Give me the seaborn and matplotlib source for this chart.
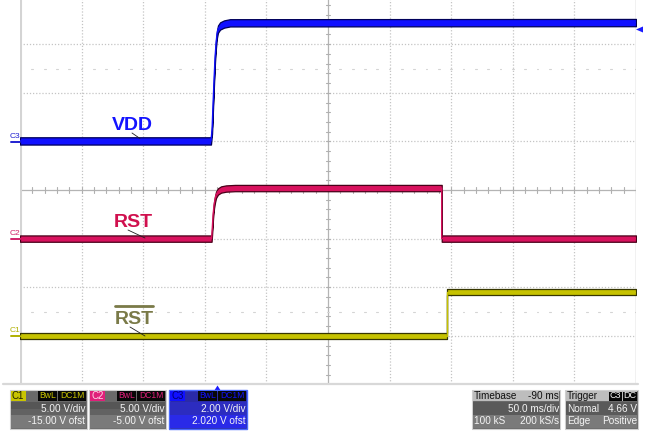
import matplotlib
matplotlib.use("Agg")
import matplotlib.pyplot as plt
import seaborn as sns
import pandas as pd
from matplotlib.patches import Rectangle, Polygon

# ---------------- data (time in ms relative to trigger, volts) ----------------
vdd_t = [-160, -5.0, -4.1, -3.3, -2.5, -1.7, -0.9, -0.1, 0.7, 2.4, 5.6, 10.5, 340]
vdd_v = [0.0, 0.0, 0.45, 1.5, 2.5, 3.4, 4.0, 4.4, 4.6, 4.73, 4.81, 4.86, 4.87]

rst_t = [-160, -4.5, -4.1, -3.3, -2.5, -1.7, -0.9, 0.7, 3.2, 7.2, 14.5, 182.3, 182.3, 340]
rst_v = [0.0, 0.0, 0.7, 2.4, 3.45, 4.05, 4.5, 4.85, 5.05, 5.15, 5.2, 5.2, 0.0, 0.0]

rstn_t = [-160, 186.4, 186.4, 340]
rstn_v = [0.0, 0.0, 4.5, 4.5]

channels = ["C1", "C2", "C3"]
ch_scale = [5.0, 5.0, 2.0]          # V/div
ch_offset = [-15.0, -5.0, 2.020]    # V ofst
ch_scale_txt = ["5.00 V/div", "5.00 V/div", "2.00 V/div"]
ch_offset_txt = ["-15.00 V ofst", "-5.00 V ofst", "2.020 V ofst"]
timebase_txt = ["-90 ms", "50.0 ms/div", "100 kS", "200 kS/s"]
trigger_txt = ["Normal", "4.66 V", "Edge", "Positive"]

# ---------------- figure ----------------
W, H = 648, 434
sns.set_style("white")
plt.rcParams["font.family"] = ["Liberation Sans", "DejaVu Sans"]

fig = plt.figure(figsize=(W / 100, H / 100), dpi=100)
X0, X1 = 20, 636
YT, YB = -4.4, 384.4
ax = fig.add_axes([X0 / W, (H - YB) / H, (X1 - X0) / W, (YB - YT) / H])
T0, T1 = -160, 340
ax.set_xlim(T0, T1)
ax.set_ylim(-4, 4)
ax.axis("off")


def d(xp, yp):
    """pixel (from top-left) -> data coords"""
    t = T0 + (xp - X0) / (X1 - X0) * (T1 - T0)
    dv = 4 - (yp - YT) / (YB - YT) * 8
    return t, dv


# ---------------- graticule ----------------
gcol = "#c4c4c4"
for k in range(1, 10):
    t = T0 + 50 * k
    if k == 5:
        ax.axvline(t, color="#b4b4b4", lw=0.9, zorder=1)
    else:
        ax.axvline(t, color=gcol, lw=0.9, ls=(0, (1, 1.5)), zorder=1)
for k in range(-3, 4):
    if k == 0:
        ax.axhline(0, color="#b4b4b4", lw=0.9, zorder=1)
    else:
        ax.axhline(k, color=gcol, lw=0.9, ls=(0, (1, 1.5)), zorder=1)
# minor ticks on centre axes
for i in range(-25, 26):
    t = 90 + 10 * i
    ax.plot([t, t], [-0.055, 0.055], color="#b0b0b0", lw=0.8, zorder=1)
    ax.plot([t - 0.7, t + 0.7], [2.5, 2.5], color="#d4d4d4", lw=0.8, zorder=1)
    ax.plot([t - 0.7, t + 0.7], [-2.5, -2.5], color="#d4d4d4", lw=0.8, zorder=1)
for i in range(-20, 21):
    y = 0.2 * i
    ax.plot([90 - 2.0, 90 + 2.0], [y, y], color="#b0b0b0", lw=0.8, zorder=1)
# borders
ax.plot([T0, T0], [-4, 3.95], color="#d4d4d4", lw=2.2, zorder=2, solid_capstyle="butt")
ax.plot([T1, T1], [-4, 4], color="#b8b8b8", lw=1.0, zorder=2)
ax.plot([T0 - 14, T1 + 2], [-4, -4], color="#d8d8d8", lw=1.6, zorder=2, clip_on=False)

# ---------------- traces ----------------
series = [
    (2, vdd_t, vdd_v, "#1010ff", "#00005a", 0.075),
    (1, rst_t, rst_v, "#d8125e", "#480018", 0.065),
    (0, rstn_t, rstn_v, "#c6c200", "#363600", 0.06),
]
for ci, t, v, col, dark, a in series:
    df = pd.DataFrame({"t": t, "div": [(x + ch_offset[ci]) / ch_scale[ci] for x in v]})
    ax.fill_between(df["t"], df["div"] - a, df["div"] + a, facecolor=col,
                    edgecolor=dark, linewidth=0.9, zorder=3)
    sns.lineplot(data=df, x="t", y="div", ax=ax, color=col, linewidth=1.0,
                 estimator=None, sort=False, zorder=4, legend=False)

# ---------------- labels ----------------
lab_font = dict(fontsize=14, fontweight="bold", ha="center", va="center", zorder=6)
ax.text(*d(132, 126), "VDD", color="#1414ff", **lab_font)
ax.text(*d(133, 222), "RST", color="#d0104e", **lab_font)
ax.text(*d(134, 319.5), "RST", color="#7a7a48", **lab_font)
ax.plot(*zip(d(115, 306), d(153, 306)), color="#7a7a48", lw=2.0, zorder=6)
for p0, p1 in [((132, 133), (140, 138.5)), ((128, 230), (145, 238)), ((130, 327), (145, 336))]:
    ax.plot(*zip(d(*p0), d(*p1)), color="#202020", lw=0.6, zorder=6)

# channel markers on the left
mk = [("C3", 142, "#2020d0"), ("C2", 238.6, "#d0206a"), ("C1", 336, "#b0b000")]
for name, yp, col in mk:
    fig.text(10 / W, 1 - (yp - 5.5) / H, name, color=col, fontsize=6, ha="left", va="center")
    fig.add_artist(plt.Line2D([11 / W, 20 / W], [1 - yp / H, 1 - yp / H], color=col, lw=1.4,
                              transform=fig.transFigure))

# trigger level arrow (right) and trigger position (bottom)
fig.add_artist(Polygon([[636 / W, 1 - 29.5 / H], [643 / W, 1 - 26.5 / H], [643 / W, 1 - 32.5 / H]],
                       closed=True, transform=fig.transFigure, fc="#1a1aff", ec="none"))
fig.add_artist(Polygon([[217.5 / W, 1 - 385.5 / H], [214 / W, 1 - 391 / H], [221 / W, 1 - 391 / H]],
                       closed=True, transform=fig.transFigure, fc="#1a1aff", ec="none"))


# ---------------- info boxes ----------------
def frect(x0, y0, x1, y1, fc, ec="none", lw=0.0, z=1):
    fig.add_artist(Rectangle((x0 / W, 1 - y1 / H), (x1 - x0) / W, (y1 - y0) / H,
                             transform=fig.transFigure, facecolor=fc, edgecolor=ec,
                             linewidth=lw, zorder=z))


def ftext(x, y, s, color, size=7.2, ha="left", z=5):
    fig.text(x / W, 1 - y / H, s, color=color, fontsize=size, ha=ha, va="center", zorder=z)


box_x = [(10, 87), (89, 166), (169, 247)]
tag_col = ["#c8c400", "#e0207a", "#1010ff"]
tag_txt = ["#202000", "#ffd8e8", "#000070"]
for i in range(3):
    x0, x1 = box_x[i]
    if i < 2:
        frect(x0, 390, x1, 429, "#6a6a6a", ec="#cfcfcf", lw=0.8, z=2)
        frect(x0 + 1, 402, x1 - 1, 409, "#565656", z=2)
        frect(x0 + 1, 409, x1 - 1, 415, "#626262", z=2)
        frect(x0 + 1, 415, x1 - 1, 428, "#7a7a7a", z=2)
    else:
        frect(x0, 390, x1, 429, "#2a2aa8", ec="#4a6aff", lw=1.0, z=2)
        frect(x0 + 1, 402, x1 - 1, 415, "#2c2cc0", z=2)
        frect(x0 + 1, 415, x1 - 1, 428, "#2a2ae8", z=2)
    frect(x0 + 1, 391, x0 + 16, 401, tag_col[i], z=3)
    ftext(x0 + 2, 396, channels[i], tag_txt[i], size=7)
    frect(x1 - 49, 391, x1 - 30, 401, "#080808", z=3)
    frect(x1 - 29, 391, x1 - 1, 401, "#080808", z=3)
    ftext(x1 - 39.5, 396, "BwL", tag_col[i], size=6.2, ha="center")
    ftext(x1 - 15, 396, "DC1M", tag_col[i], size=6.2, ha="center")
    ftext(x1 - 1.5, 408.5, ch_scale_txt[i], "#f4f4f4", ha="right")
    ftext(x1 - 1.5, 421.5, ch_offset_txt[i], "#f4f4f4", ha="right")

# timebase box
frect(472, 390, 560, 429, "#6a6a6a", ec="#cfcfcf", lw=0.8, z=2)
frect(473, 391, 559, 401, "#bdbdbd", z=2)
frect(473, 402, 559, 415, "#5a5a5a", z=2)
frect(473, 415, 559, 428, "#7a7a7a", z=2)
ftext(474, 396, "Timebase", "#101010")
ftext(559, 396, timebase_txt[0], "#101010", ha="right")
ftext(559, 408.5, timebase_txt[1], "#f4f4f4", ha="right")
ftext(474, 421.5, timebase_txt[2], "#f4f4f4")
ftext(559, 421.5, timebase_txt[3], "#f4f4f4", ha="right")

# trigger box
frect(565, 390, 638, 429, "#6a6a6a", ec="#cfcfcf", lw=0.8, z=2)
frect(566, 391, 637, 401, "#bdbdbd", z=2)
frect(566, 402, 637, 415, "#5a5a5a", z=2)
frect(566, 415, 637, 428, "#7a7a7a", z=2)
ftext(567, 396, "Trigger", "#101010")
frect(609, 391.5, 622, 400.5, "#080808", z=3)
frect(623, 391.5, 637, 400.5, "#080808", z=3)
ftext(615.5, 396, "C3", "#f4f4f4", size=6.5, ha="center")
ftext(630, 396, "DC", "#f4f4f4", size=6.5, ha="center")
ftext(567, 408.5, trigger_txt[0], "#f4f4f4")
ftext(637, 408.5, trigger_txt[1], "#f4f4f4", ha="right")
ftext(567, 421.5, trigger_txt[2], "#f4f4f4")
ftext(637, 421.5, trigger_txt[3], "#f4f4f4", ha="right")

fig.savefig("out.png", dpi=100)
